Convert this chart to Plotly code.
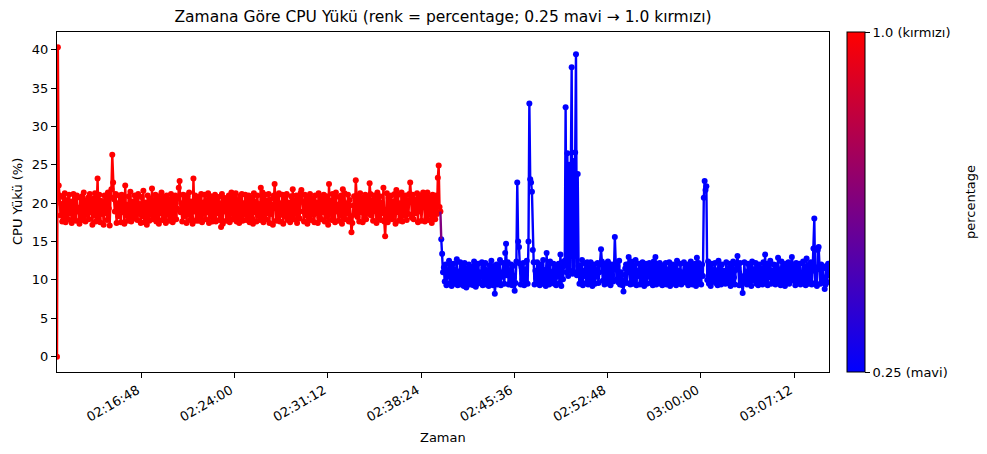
import pandas as pd
import plotly.graph_objects as go

# ---- data ----
start_time = "2024-01-01 02:10:17"
sample_step = "4s"

# typical red-phase readings (percentage = 1.0)
red_band = [
    19.1, 20.6, 17.8, 21.0, 18.4, 19.9, 17.6, 20.8, 18.2, 21.3, 17.5, 19.6, 20.4, 17.9, 21.1, 18.7, 20.2, 17.4, 19.8, 21.2,
    18.1, 20.5, 17.7, 21.0, 18.9, 19.4, 17.3, 20.7, 18.3, 20.9, 17.8, 21.4, 19.0, 17.6, 20.3, 18.5, 20.7, 17.9, 21.2, 18.8,
    20.1, 17.2, 20.6, 18.4, 21.3, 17.6, 19.7, 20.9, 18.0, 21.1, 17.5, 20.3, 18.6, 19.9, 17.2, 21.0, 18.7, 20.4, 17.8, 21.4,
    19.3, 17.1, 20.8, 18.2, 20.0, 17.7, 20.5, 18.9, 21.2, 17.4, 20.0, 18.3, 21.0, 19.6, 17.5, 21.1, 18.8, 20.6, 17.3, 21.3,
    18.4, 19.8, 17.7, 20.9, 18.1, 21.5, 17.6, 20.2, 18.0, 19.4, 21.0, 18.0, 20.7, 17.8, 21.2, 18.6, 19.9, 17.4, 20.8, 18.3,
    21.6, 17.5, 20.1, 18.9, 17.2, 21.0, 19.2, 17.7, 20.6, 18.5, 21.3, 17.9, 20.4, 18.1, 21.1, 17.6, 19.7, 20.9, 17.3, 20.3,
    18.7, 21.4, 17.8, 19.5, 20.8, 18.2, 17.4, 21.0, 18.6, 20.5, 17.7, 19.9, 21.2, 18.1, 17.5, 20.7, 18.4, 21.0, 17.9, 19.3,
    20.6, 17.2, 21.3, 18.8, 20.0, 17.6, 21.1, 18.3, 19.8, 21.0, 17.4, 20.9, 18.5, 21.4, 17.8, 20.2, 18.0, 17.3, 20.6, 18.9,
    21.0, 17.7, 19.5, 20.8, 17.7, 20.8, 18.2, 21.2, 17.5, 20.1, 18.6, 21.1, 17.9, 20.4, 18.8, 21.3, 17.4, 19.7, 20.9, 18.2,
    17.6, 20.5, 18.1, 21.1, 17.6, 20.3, 18.7, 20.8, 17.8, 20.0, 18.4, 21.2, 17.3, 20.7, 18.9, 20.6, 17.7, 20.6, 18.2, 21.0,
    17.5, 19.9, 21.4, 18.6, 17.9, 20.8, 18.3, 21.3, 17.6, 20.4, 19.0, 17.4, 20.9, 18.1, 21.2, 17.7, 20.0, 18.5, 21.1, 17.8,
    20.6, 18.3, 21.0, 17.5, 19.6, 20.7, 18.0, 17.3, 21.3, 18.8, 20.2, 17.6, 21.0, 18.4, 19.9, 17.8, 20.9, 18.2, 21.4, 17.5,
    19.4, 21.1, 17.9, 20.3, 18.7, 21.2, 17.4, 20.5, 18.6, 19.8, 17.2, 21.0, 18.9, 20.4, 17.7, 20.8, 18.1, 21.3, 17.6, 20.0,
    18.5, 21.1, 17.3, 20.6, 18.3, 19.7, 21.2, 17.8, 20.1, 18.8, 17.5, 20.9, 18.2, 21.4, 17.9, 20.3, 18.6, 21.0, 17.4, 19.6,
    20.7, 18.0, 21.3, 17.7, 20.2, 18.9, 17.6, 21.1, 18.4, 20.5, 17.3, 20.8, 18.1, 21.2, 17.8, 19.9, 20.6, 18.5, 17.5, 21.0,
    18.7, 20.1, 17.4, 21.3, 18.2, 20.7, 17.9, 20.4, 18.8, 21.1, 17.6, 19.5, 20.9, 18.3, 17.2, 21.0, 18.6, 20.3, 17.8, 21.2,
    18.0, 20.6, 17.5, 21.4, 18.9, 19.8, 17.7, 20.8, 18.4, 21.0, 17.3, 20.5, 18.1, 21.3, 17.9, 20.0, 18.7, 21.1, 17.6, 20.4,
    18.3, 21.2, 17.4, 19.7, 20.9, 18.5, 17.8, 21.0, 18.2, 20.6, 17.6, 21.3, 18.8, 20.2, 17.5, 20.7, 18.0, 21.1, 17.9, 19.9,
    20.8, 18.6, 17.3, 21.2, 18.4, 20.3, 17.7, 21.0, 18.9, 20.5, 17.4, 21.4, 18.1, 19.6, 20.9, 17.8, 20.1, 18.7, 21.1, 17.6,
    20.4, 18.3, 21.3, 17.5, 20.7, 18.0, 19.8, 21.0, 17.9, 20.2, 18.5, 21.2, 17.3, 20.6, 18.8, 21.1, 17.7, 20.0, 18.2, 21.4,
    17.6, 20.8, 18.4, 19.5, 21.0, 17.8, 20.3, 18.6, 21.2, 17.4, 20.9, 18.1, 21.1, 17.9, 20.5, 18.7, 19.7, 21.3, 17.5, 20.6,
    18.9, 21.0, 17.7, 20.2, 18.3, 21.2, 17.6, 20.7, 18.0, 21.4, 17.8, 19.9, 20.8, 18.5, 17.4, 21.1, 18.2, 20.4, 17.9, 21.0,
    18.6, 20.3, 17.7, 20.9, 18.9,
]
# isolated red-phase readings (sample index, value)
red_peak_idx = [0, 1, 2, 47, 63, 64, 65, 79, 110, 141, 142, 158, 190, 236, 252, 273, 283,
                315, 331, 341, 346, 362, 378, 380, 393, 409, 424, 441, 442, 443, 444]
red_peak_val = [0.0, 40.3, 22.3, 23.2, 21.8, 26.3, 22.7, 22.3, 21.9, 22.0, 22.9, 23.2, 16.9, 22.0, 22.5, 21.8, 21.7,
                22.5, 21.8, 16.2, 23.0, 22.6, 22.0, 15.7, 21.7, 22.7, 21.4, 23.3, 24.9, 19.5, 18.9]

# typical blue-phase readings (percentage = 0.25)
blue_band = [
    10.1, 12.2, 9.4, 11.6, 9.8, 12.0, 9.3, 11.3, 10.4, 12.5, 9.6, 11.8, 9.2, 10.9, 12.1, 9.5, 11.4, 10.0, 12.7, 9.3,
    11.1, 9.9, 12.3, 9.4, 10.8, 11.9, 9.2, 12.2, 10.3, 9.0, 11.5, 9.7, 12.0, 9.4, 11.2, 9.6, 11.7, 9.3, 12.4, 10.2,
    9.1, 12.1, 9.5, 12.1, 9.8, 11.0, 10.4, 12.3, 9.3, 11.6, 9.9, 12.2, 9.4, 11.3, 10.7, 9.2, 11.9, 9.6, 12.5, 10.1,
    9.3, 11.8, 11.2, 9.7, 12.0, 9.4, 11.5, 9.8, 12.6, 9.3, 11.0, 10.4, 12.2, 9.5, 11.7, 9.2, 10.6, 12.3, 9.4, 11.3,
    9.7, 12.0, 9.3, 11.8, 10.3, 11.8, 9.6, 12.4, 9.0, 11.1, 9.9, 12.1, 9.4, 11.6, 10.1, 12.2, 9.3, 11.4, 9.7, 12.5,
    9.5, 11.0, 10.5, 12.1, 9.2, 11.8, 9.8, 12.3, 9.4, 11.2, 10.2, 12.3, 9.6, 11.5, 9.3, 12.0, 10.7, 9.5, 12.6, 9.9,
    11.3, 9.2, 12.2, 10.0, 11.7, 9.4, 12.4, 9.8, 11.1, 10.3, 12.1, 9.5, 11.6, 9.3, 11.9, 10.4, 12.1, 9.6, 11.4, 9.2,
    12.3, 10.1, 11.8, 9.7, 12.5, 9.4, 11.0, 10.6, 9.3, 12.2, 9.9, 11.5, 10.2, 9.6, 12.0, 9.1, 11.7, 9.4, 12.4, 10.2,
    9.5, 11.9, 9.8, 12.6, 9.3, 11.2, 10.5, 12.1, 9.6, 12.3, 9.4, 11.6, 9.7, 12.3, 10.0, 9.2, 11.8, 12.0, 9.5, 11.3,
    10.4, 12.2, 9.6, 11.0, 12.1, 9.3, 12.4, 9.9, 11.5, 9.4, 12.1, 10.2, 9.7, 12.4, 9.5, 11.7, 9.3, 12.0, 10.6, 9.8,
    11.4, 9.2, 12.3, 10.1, 11.8, 9.7, 12.5, 9.4, 11.0, 10.6, 9.3, 12.2, 9.9, 11.5, 12.0, 9.6, 12.0, 9.2, 11.7, 9.4,
    12.4, 10.2, 9.5, 11.9, 9.8, 12.6, 9.3, 11.2, 10.5, 12.1, 9.4, 11.6, 9.7, 12.3, 10.0, 9.2, 11.8, 12.1, 9.5, 11.3,
    10.4, 12.2, 9.6, 11.0, 12.0, 9.3, 12.4, 9.9, 11.5, 9.4, 12.1, 10.2, 9.7, 12.2, 9.5, 11.7, 9.3, 11.9, 10.3, 9.6,
    12.2, 9.4, 11.4, 10.0, 12.3, 9.2, 11.6, 9.8, 12.0, 10.4, 9.5, 11.8, 9.3, 12.5, 10.1, 11.2, 9.6, 12.1, 9.4, 11.0,
    9.9, 12.3, 9.7, 11.5, 10.3, 12.0, 9.3, 11.7, 9.5, 12.4, 10.6, 9.4, 11.9, 9.8, 12.1, 9.2, 11.3, 10.2, 12.2, 9.6,
    11.8, 9.4, 12.0, 10.5, 9.3, 12.3, 9.7, 11.1, 10.0, 12.4, 9.5, 11.6, 9.2, 12.1, 10.4, 9.8, 11.4, 12.2, 9.6, 11.0,
    9.3, 12.5, 10.1, 11.7, 9.4, 12.0, 9.9, 11.2, 10.7, 9.5, 12.3, 9.6, 11.5, 10.2, 12.1, 9.2, 11.8, 9.7, 12.4, 10.3,
    9.4, 11.3, 12.0, 9.8, 11.6, 9.3, 12.2, 10.5, 9.5, 11.9, 9.7, 12.3, 10.0, 11.1, 9.4, 12.1, 9.6, 11.7, 10.4, 9.2,
    12.4, 9.9, 11.4, 10.1, 12.2, 9.5, 11.8, 9.3, 12.0, 10.6, 9.7, 11.5, 9.4, 12.3, 10.2, 11.0, 9.6, 12.1, 9.3, 11.6,
    10.3, 12.5, 9.5, 11.2, 9.8, 12.0, 10.4, 9.4, 11.9, 9.7, 12.2, 10.0, 11.4, 9.3, 12.4, 9.6, 11.7, 10.5, 9.2, 12.1,
    9.8, 11.3, 12.3, 9.5, 11.6, 10.2, 9.4, 12.0, 9.9, 11.8, 9.3, 12.2, 10.6, 9.6, 11.5, 12.1, 9.4, 11.0, 10.1, 12.4,
    9.7, 11.7, 9.3, 12.0, 10.3, 9.5, 11.9, 9.8, 12.3, 9.4, 11.2, 10.4, 12.1, 9.6, 11.6, 9.2, 12.2, 10.0, 11.4, 9.5,
    12.0, 9.8, 11.5, 10.3, 12.2, 9.4, 11.8, 9.7, 12.1, 10.6,
]
# isolated blue-phase readings (sample index within blue phase, value)
blue_peak_idx = [0, 1, 2, 62, 74, 75, 85, 88, 89, 90, 101, 102, 103, 104, 105, 106, 122, 138,
                 143, 144, 145, 146, 147, 148, 149, 150, 151, 152, 153, 154, 155, 156, 157, 158, 159,
                 185, 201, 211, 217, 248, 296, 304, 305, 306, 307, 343, 349, 375, 390, 406, 423,
                 431, 432, 436, 437, 444]
blue_peak_val = [15.3, 13.4, 11.0, 8.2, 13.5, 14.7, 8.6, 22.7, 15.0, 14.3, 15.0, 33.0, 23.1, 22.7, 21.5, 13.9, 13.5, 13.3,
                 12.5, 32.5, 11.0, 26.5, 10.5, 25.0, 11.2, 24.0, 37.7, 10.8, 25.5, 11.0, 26.6, 39.4, 10.6, 23.8, 11.8,
                 14.0, 15.6, 8.5, 13.0, 13.0, 12.9, 20.7, 22.9, 21.7, 22.2, 13.1, 8.3, 13.3, 12.9, 13.0, 12.8,
                 14.1, 18.0, 13.9, 14.3, 8.8]

pct_red_value = 1.0
pct_blue_value = 0.25

x_tick_start = "2024-01-01 02:16:48"
x_tick_step_ms = 432000  # 7.2 minutes
y_ticks = [0, 5, 10, 15, 20, 25, 30, 35, 40]
cbar_ticks = [0.25, 1.0]
cbar_labels = ["0.25 (mavi)", "1.0 (kırmızı)"]

# ---- assemble series ----
cpu_red = list(red_band)
for i, v in zip(red_peak_idx, red_peak_val):
    cpu_red[i] = v
cpu_blue = list(blue_band)
for i, v in zip(blue_peak_idx, blue_peak_val):
    cpu_blue[i] = v
pct_red = [pct_red_value] * len(cpu_red)
pct_blue = [pct_blue_value] * len(cpu_blue)

times = pd.date_range(start=start_time, periods=len(cpu_red) + len(cpu_blue), freq=sample_step)
t_red = times[: len(cpu_red)]
t_blue = times[len(cpu_red):]

scale = [[0.0, "rgb(0,0,255)"], [1.0, "rgb(255,0,0)"]]
FONT = "DejaVu Sans"
MS = 6
LW = 2.4

fig = go.Figure()

fig.add_trace(go.Scatter(
    x=t_red, y=cpu_red, mode="lines+markers",
    line=dict(color="rgb(255,0,0)", width=LW),
    marker=dict(size=MS, color=pct_red, colorscale=scale, cmin=0.25, cmax=1.0,
                line=dict(width=0),
                showscale=True,
                colorbar=dict(
                    x=(847 - 57) / 772, xanchor="left", xpad=0,
                    y=0.5, yanchor="middle", ypad=0,
                    len=1.0, lenmode="fraction",
                    thickness=18, thicknessmode="pixels",
                    outlinewidth=1, outlinecolor="black",
                    tickmode="array", tickvals=cbar_ticks, ticktext=cbar_labels,
                    ticks="outside", ticklen=5, tickcolor="black",
                    tickfont=dict(family=FONT, size=13, color="black"),
                )),
    showlegend=False, hoverinfo="x+y",
))

fig.add_trace(go.Scatter(
    x=t_blue, y=cpu_blue, mode="lines+markers",
    line=dict(color="rgb(0,0,255)", width=LW),
    marker=dict(size=MS, color=pct_blue, colorscale=scale, cmin=0.25, cmax=1.0,
                line=dict(width=0), showscale=False),
    showlegend=False, hoverinfo="x+y",
))

# transition segment (mid colour)
fig.add_trace(go.Scatter(
    x=[t_red[-1], t_blue[0]], y=[cpu_red[-1], cpu_blue[0]], mode="lines",
    line=dict(color="rgb(128,0,128)", width=LW),
    showlegend=False, hoverinfo="skip",
))

fig.update_layout(
    width=987, height=454,
    margin=dict(l=57, r=158, t=32, b=82),
    paper_bgcolor="white", plot_bgcolor="white",
    font=dict(family=FONT, size=13, color="black"),
    title=dict(text="Zamana Göre CPU Yükü (renk = percentage; 0.25 mavi → 1.0 kırmızı)",
               x=443 / 987, xanchor="center", y=1 - 17 / 454, yanchor="middle",
               font=dict(family=FONT, size=15.5, color="black")),
    showlegend=False,
)

fig.update_xaxes(
    type="date", range=[times[0], times[-1]],
    tick0=x_tick_start, dtick=x_tick_step_ms, tickformat="%H:%M:%S",
    tickangle=-30, ticks="outside", ticklen=5, tickcolor="black",
    ticklabelshift=-4,
    showline=True, linecolor="black", linewidth=1, mirror=True,
    showgrid=False, zeroline=False, automargin=False,
    tickfont=dict(family=FONT, size=13, color="black"),
)
fig.update_yaxes(
    range=[-2.0, 42.3], tickmode="array", tickvals=y_ticks,
    ticks="outside", ticklen=5, tickcolor="black",
    showline=True, linecolor="black", linewidth=1, mirror=True,
    showgrid=False, zeroline=False, automargin=False,
    tickfont=dict(family=FONT, size=13, color="black"),
)

fig.add_annotation(text="Zaman", xref="paper", yref="paper",
                   x=0.5, y=(372 - 437) / 340, xanchor="center", yanchor="middle",
                   showarrow=False, font=dict(family=FONT, size=13, color="black"))
fig.add_annotation(text="CPU Yükü (%)", xref="paper", yref="paper",
                   x=(17 - 57) / 772, y=0.5, xanchor="center", yanchor="middle",
                   textangle=-90, showarrow=False,
                   font=dict(family=FONT, size=13, color="black"))
fig.add_annotation(text="percentage", xref="paper", yref="paper",
                   x=(970 - 57) / 772, y=0.5, xanchor="center", yanchor="middle",
                   textangle=-90, showarrow=False,
                   font=dict(family=FONT, size=13, color="black"))

fig.write_html("out.html", config={"displayModeBar": False},
               post_script="document.body.style.margin='0';")
